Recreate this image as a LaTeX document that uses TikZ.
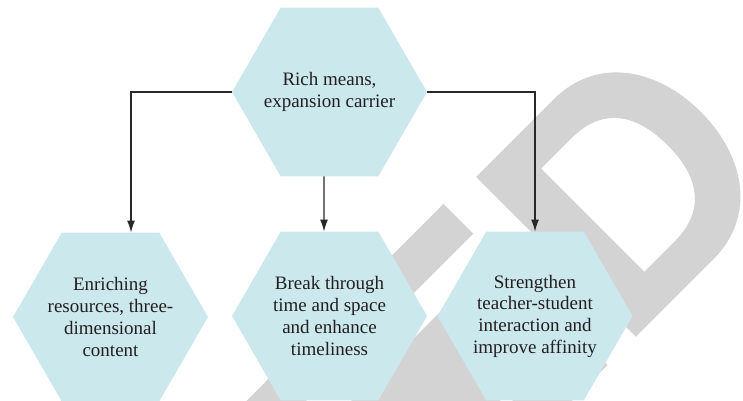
\documentclass[tikz,border=0pt]{standalone}
\usepackage{fontspec}
\setmainfont{Liberation Serif}
\usetikzlibrary{shapes.geometric}
\usetikzlibrary{arrows.meta}
\definecolor{hexfill}{RGB}{203,232,237}
\definecolor{markgray}{RGB}{211,211,211}
\definecolor{linegray}{RGB}{40,40,40}
\definecolor{textgray}{RGB}{35,31,32}

\begin{document}
\begin{tikzpicture}[x=1pt,y=-1pt,hexa/.style={regular polygon, regular polygon sides=6, minimum size=195pt, inner sep=-10pt, outer sep=0pt, fill=hexfill, text=textgray, align=center, font=\fontsize{19}{21.7}\selectfont}]
    \tikzset{arr/.style={draw=linegray, line width=1.2pt, -{Latex[length=12pt,width=8pt]}}}
    \useasboundingbox (0,0) rectangle (743,400);

    % grey mark behind the chart
    \begin{scope}
    \clip (0,0) rectangle (743,400);
    \begin{scope}[shift={(476,177)}, x={(0.7071pt,-0.7071pt)}, y={(0.7071pt,0.7071pt)}]
    \fill[markgray, even odd rule] (0,0) -- (0,110) .. controls (0,170) and (50,205) .. (113,205) .. controls (176,205) and (226,170) .. (226,110) -- (226,0) -- cycle
        (40,52) -- (40,95) .. controls (40,140) and (70,158) .. (113,158) .. controls (156,158) and (186,140) .. (186,95) -- (186,52) -- cycle;
    \fill[markgray] (-4,-420) -- (-4,-42) -- (38,-42) -- (38,-420) -- cycle;
    \fill[markgray] (70,-420) -- (70,-55) -- (175,-55) -- (175,-420) -- cycle;
    \fill[markgray] (184,-420) -- (184,-40) -- (226,-40) -- (226,-420) -- cycle;
    \end{scope}
    \end{scope}

    \node[hexa] (top) at (329.5,92) {Rich means,\\expansion carrier};
    \node[hexa] (left) at (110.5,317) {Enriching\\resources, three-\\dimensional\\content};
    \node[hexa] (mid) at (329.5,316) {Break through\\time and space\\and enhance\\timeliness};
    \node[hexa] (right) at (535,316) {Strengthen\\teacher-student\\interaction and\\improve affinity};

    \draw[arr] (top.west) -| ([xshift=20.5pt]left.north);
    \draw[arr] ([xshift=-5.5pt]top.south) -- ([xshift=-5.5pt]mid.north);
    \draw[arr] (top.east) -| (right.north);
\end{tikzpicture}
\end{document}
